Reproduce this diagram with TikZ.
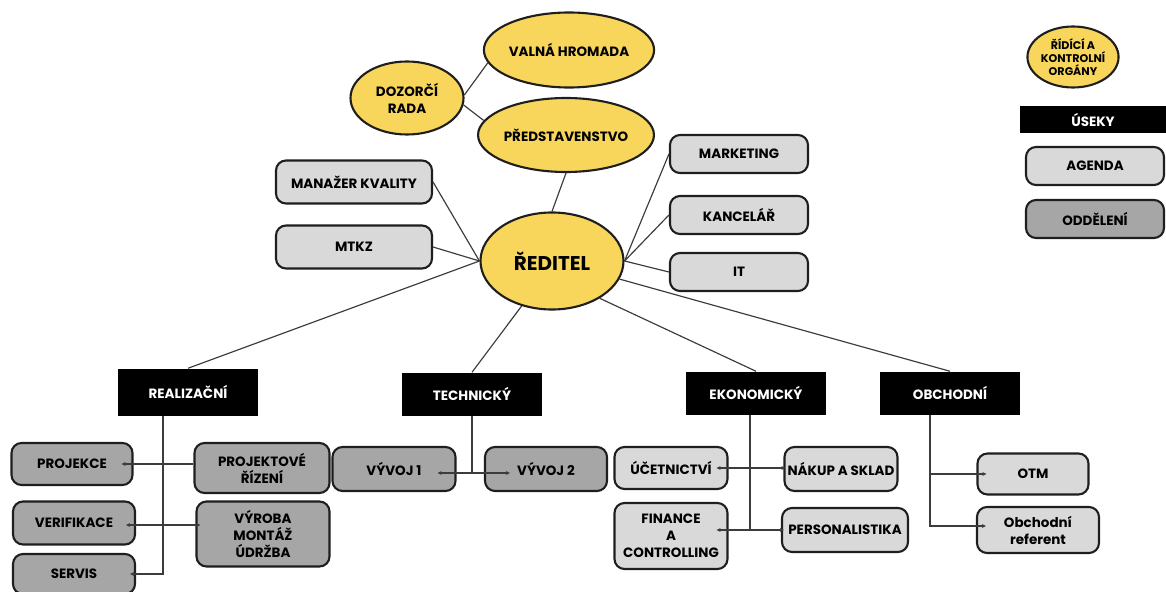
\documentclass[tikz,border=0pt]{standalone}
\usepackage{fontspec}
\setmainfont{Poppins}
\usetikzlibrary{calc,arrows.meta,shapes.geometric}
\definecolor{orgyellow}{RGB}{248,213,91}
\definecolor{agendagrey}{RGB}{217,217,217}
\definecolor{oddelgrey}{RGB}{166,166,166}
\definecolor{linkgrey}{RGB}{60,60,60}
\definecolor{edgeblack}{RGB}{30,30,30}
\newcommand{\lbl}{\bfseries\fontsize{11.5}{14.5}\selectfont}

\begin{document}
\begin{tikzpicture}[x=0.03cm,y=-0.03cm,
    organ/.style={ellipse,draw=edgeblack,line width=1.8pt,fill=orgyellow,inner sep=0pt,align=center,font=\lbl},
    usek/.style={fill=black,text=white,inner sep=0pt,minimum width=4.2cm,minimum height=1.29cm,font=\lbl},
    agenda/.style={rounded corners=0.3cm,draw=edgeblack,line width=1.8pt,fill=agendagrey,inner sep=0pt,align=center,font=\lbl},
    oddeleni/.style={agenda,fill=oddelgrey},
    link/.style={draw=linkgrey,line width=1pt},
    onearrow/.style={-{Stealth[length=3.5pt,width=3.5pt]}},
    twoarrow/.style={{Stealth[length=3.5pt,width=3.5pt]}-{Stealth[length=3.5pt,width=3.5pt]}}]
  \useasboundingbox (0,0) rectangle (1166,592);

  % ridici a kontrolni organy
  \node[organ,minimum width=4.86cm,minimum height=2.25cm] (valna) at (569,50) {VALNÁ HROMADA};
  \node[organ,minimum width=3.39cm,minimum height=2.19cm] (dozorci) at (407,98) {DOZORČÍ\\RADA};
  \node[organ,minimum width=5.04cm,minimum height=2.22cm] (predst) at (566,135) {PŘEDSTAVENSTVO};
  \node[organ,minimum width=4.29cm,minimum height=2.91cm,font=\bfseries\fontsize{17}{20}\selectfont] (reditel) at (552,261) {ŘEDITEL};

  % agenda
  \node[agenda,minimum width=4.68cm,minimum height=1.29cm] (kvalita) at (354,182) {MANAŽER KVALITY};
  \node[agenda,minimum width=4.68cm,minimum height=1.29cm] (mtkz) at (354,247) {MTKZ};
  \foreach \n/\y/\t in {marketing/154/MARKETING, kancelar/215/KANCELÁŘ, it/272/IT}
    {\node[agenda,minimum width=4.14cm,minimum height=1.14cm] (\n) at (739,\y) {\t};}

  % legenda
  \node[organ,minimum width=2.19cm,minimum height=1.83cm,font=\bfseries\fontsize{9.5}{11}\selectfont] (legorgan) at (1073,57) {ŘÍDÍCÍ A\\KONTROLNÍ\\ORGÁNY};
  \node[usek,minimum width=4.38cm,minimum height=0.81cm] (legusek) at (1093,120) {ÚSEKY};
  \node[agenda,minimum width=4.14cm,minimum height=1.14cm] (legagenda) at (1095,166) {AGENDA};
  \node[oddeleni,minimum width=4.14cm,minimum height=1.14cm] (legoddel) at (1095,219) {ODDĚLENÍ};

  % useky
  \node[usek,minimum height=1.41cm] (realiz) at (188,392) {REALIZAČNÍ};
  \node[usek] (techn) at (472,394) {TECHNICKÝ};
  \node[usek] (ekon) at (756,393) {EKONOMICKÝ};
  \node[usek] (obch) at (950,393) {OBCHODNÍ};

  % oddeleni
  \node[oddeleni,minimum width=3.63cm,minimum height=1.26cm] (projekce) at (72,464) {PROJEKCE};
  \node[oddeleni,minimum width=4.05cm,minimum height=1.5cm] (projrizeni) at (262,468) {PROJEKTOVÉ\\ŘÍZENÍ};
  \node[oddeleni,minimum width=3.66cm,minimum height=1.29cm] (verifikace) at (74,523) {VERIFIKACE};
  \node[oddeleni,minimum width=3.99cm,minimum height=1.95cm] (vyroba) at (263,534) {VÝROBA\\MONTÁŽ\\ÚDRŽBA};
  \node[oddeleni,minimum width=3.66cm,minimum height=1.2cm] (servis) at (74,574) {SERVIS};
  \node[oddeleni,minimum width=3.69cm,minimum height=1.32cm] (vyvoj1) at (394,469) {VÝVOJ 1};
  \node[oddeleni,minimum width=3.66cm,minimum height=1.32cm] (vyvoj2) at (546,469) {VÝVOJ 2};

  % agenda pod useky
  \node[agenda,minimum width=3.39cm,minimum height=1.26cm] (ucetnictvi) at (671,468) {ÚČETNICTVÍ};
  \node[agenda,minimum width=3.39cm,minimum height=1.32cm] (nakup) at (841,469) {NÁKUP A SKLAD};
  \node[agenda,minimum width=3.39cm,minimum height=1.98cm] (finance) at (671,536) {FINANCE\\A\\CONTROLLING};
  \node[agenda,minimum width=3.78cm,minimum height=1.32cm] (personal) at (845,530) {PERSONALISTIKA};
  \node[agenda,minimum width=3.33cm,minimum height=1.23cm] (otm) at (1033,474) {OTM};
  \node[agenda,minimum width=3.66cm,minimum height=1.38cm] (referent) at (1038,530) {Obchodní\\referent};

  % spojnice nahore
  \draw[link] (dozorci.3) -- (valna.189);
  \draw[link] (dozorci.353) -- (predst.170);
  \draw[link] (predst.south) -- (reditel.north);
  \draw[link] (kvalita.east) -- (reditel.west);
  \draw[link] (mtkz.east) -- (reditel.west);
  \foreach \n in {marketing,kancelar,it}
    \draw[link] (reditel.east) -- (\n.west);
  \draw[link] (reditel.west) -- (realiz.north);
  \draw[link] (reditel.236) -- (techn.north);
  \draw[link] (reditel.322) -- (ekon.north);
  \draw[link] (reditel.345) -- (obch.north);

  % realizacni
  \coordinate (rbus) at ($(realiz.south)+(-25,0)$);
  \draw[link,onearrow] (rbus) |- ($(servis.east)+(-6,0)$);
  \draw[link,onearrow] (projrizeni.west |- projekce) -- ($(projekce.east)+(-12,0)$);
  \draw[link,twoarrow] ($(verifikace.east)+(-10,2)$) -- ($(verifikace.east -| vyroba.west)+(5,2)$);

  % technicky
  \draw[link] (techn.south) -- ($(techn.south |- vyvoj1)+(0,4)$);
  \draw[link,twoarrow] ($(vyvoj1.east)+(-19,4)$) -- ($(vyvoj2.west)+(26,4)$);

  % ekonomicky
  \coordinate (ebus) at ($(ekon.south)+(-6,0)$);
  \draw[link] (ebus) -- (ebus |- personal);
  \draw[link,twoarrow] ($(ucetnictvi.east)+(-12,0)$) -- ($(ucetnictvi.east -| nakup.west)+(2,0)$);
  \draw[link,twoarrow] ($(personal.west -| finance.east)+(-12,0)$) -- ($(personal.west)+(3,0)$);

  % obchodni
  \coordinate (obus) at ($(obch.south)+(-20,0)$);
  \draw[link,onearrow] (obus) |- ($(referent.west)+(10,-4)$);
  \draw[link,onearrow] (obus |- otm) -- ($(otm.west)+(10,0)$);
\end{tikzpicture}
\end{document}
